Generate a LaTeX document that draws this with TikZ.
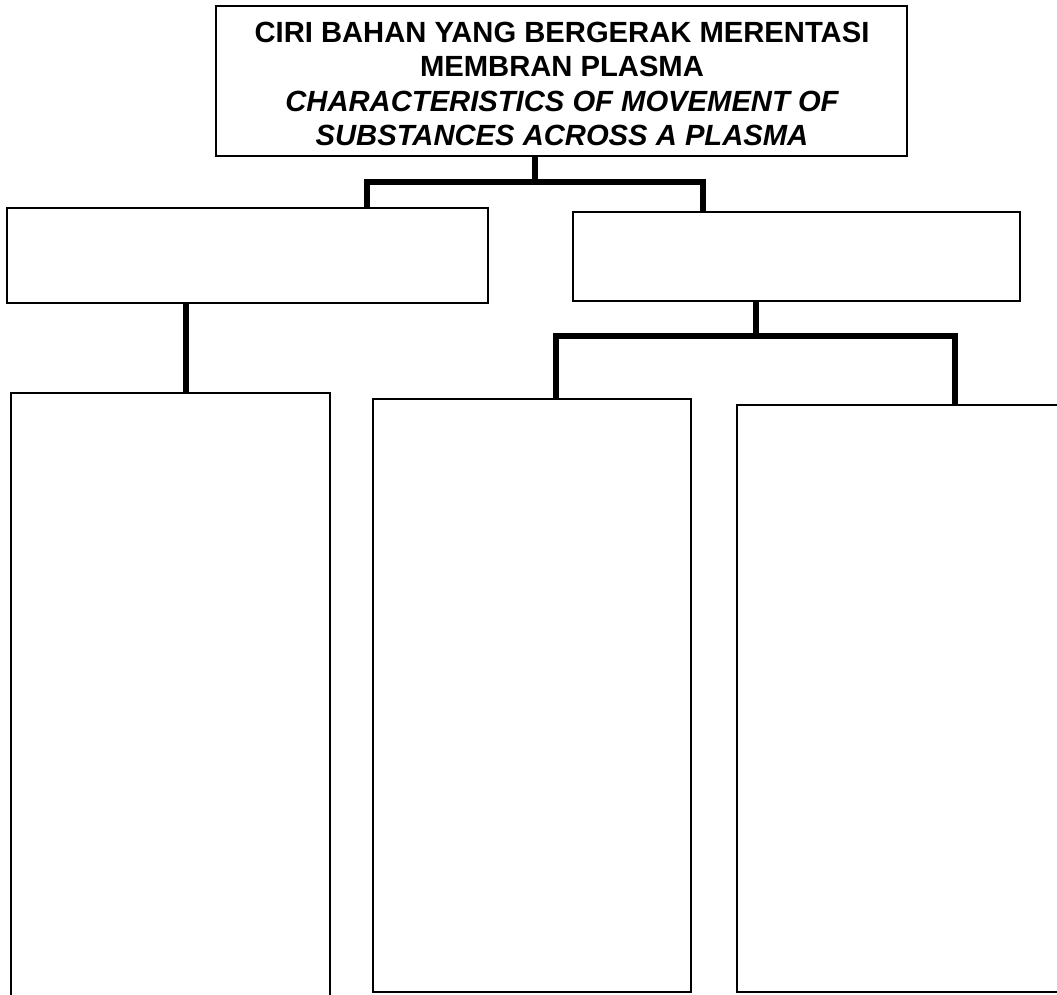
\documentclass[tikz,border=0pt]{standalone}
\usepackage{fontspec}
\setmainfont{Liberation Sans}
\begin{document}
\begin{tikzpicture}[x=1pt,y=-1pt,
  box/.style={draw=black,line width=1.4pt,rectangle,inner sep=0pt,fill=none},
  conn/.style={draw=black,line width=5.5pt,line join=miter,line cap=butt},
  titletext/.style={inner sep=0pt,align=center,anchor=north,
    font=\fontsize{29.2}{34.2}\selectfont\bfseries}]
  \useasboundingbox[fill=white] (0,0) rectangle (1057,994);

  % top box with heading
  \node[box,minimum width=691pt,minimum height=150pt] (top) at (561.5,81) {};
  \node[titletext] (title) at (562,22.1)
    {CIRI BAHAN YANG BERGERAK MERENTASI\\
     MEMBRAN PLASMA\\
     \itshape CHARACTERISTICS OF MOVEMENT OF\\
     \itshape SUBSTANCES ACROSS A PLASMA};

  % second level
  \node[box,minimum width=481pt,minimum height=95pt] (ls) at (247.5,255.5) {};
  \node[box,minimum width=447pt,minimum height=89pt] (rs) at (796.5,256.5) {};

  % third level (tall boxes)
  \node[box,minimum width=319pt,minimum height=617pt] (lt) at (170.5,701.5) {};
  \node[box,minimum width=318pt,minimum height=593pt] (mt) at (532,695.5) {};
  \node[box,minimum width=333pt,minimum height=587pt] (rt) at (903.5,698.5) {};

  % junction points of the bracket connectors
  \coordinate (j1) at (535,182);
  \coordinate (d1) at (367,182);
  \coordinate (d2) at (703,182);
  \coordinate (j3) at (186,300);
  \coordinate (j2) at (756,336);
  \coordinate (d3) at (556,336);
  \coordinate (d4) at (955,336);

  % connectors
  \draw[conn] (top.south -| j1) -- (j1);
  \draw[conn] (ls.north -| d1) -- (d1) -- (d2) -- (rs.north -| d2);
  \draw[conn] (ls.south -| j3) -- (lt.north -| j3);
  \draw[conn] (rs.south -| j2) -- (j2);
  \draw[conn] (mt.north -| d3) -- (d3) -- (d4) -- (rt.north -| d4);
\end{tikzpicture}
\end{document}
